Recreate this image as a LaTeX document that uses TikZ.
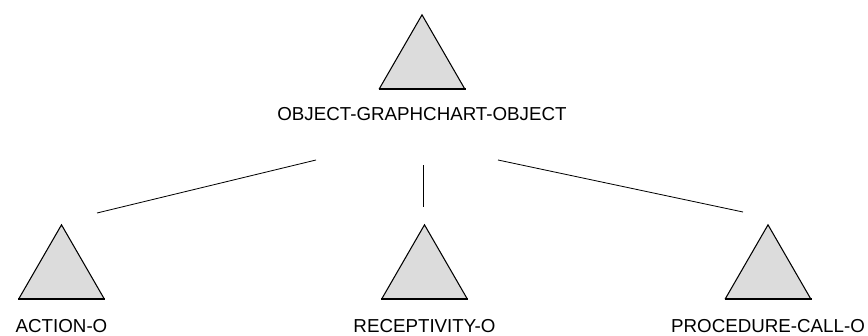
\documentclass[tikz,border=0pt]{standalone}
\usepackage{fontspec}
\setmainfont{Liberation Sans}
\usepackage{tikz}
\usetikzlibrary{positioning,shapes.geometric}
\definecolor{trifill}{HTML}{DCDCDC}
\tikzset{
  classtri/.style={regular polygon, regular polygon sides=3, draw=black, fill=trifill,
                   line width=0.9pt, minimum size=2.95cm, inner sep=0pt},
  classname/.style={inner sep=0pt, font=\fontsize{16}{18}\selectfont},
  link/.style={line width=0.7pt, draw=black},
}
\newcommand{\thickbase}[1]{\draw[line width=1.8pt] (#1.corner 2) -- (#1.corner 3);}

\begin{document}
\begin{tikzpicture}[x=0.03cm, y=-0.03cm]
  \useasboundingbox (0,0) rectangle (868,336);
  % root class
  \node[classtri] (root) at (422,64) {};
  \thickbase{root}
  \node[classname, below=0.55cm of root.south] (rootname) {OBJECT-GRAPHCHART-OBJECT};
  % subclasses
  \node[classtri] (action) at (61.5,274) {};
  \node[classtri] (recept) at (424.5,274) {};
  \node[classtri] (proc) at (768,274) {};
  \thickbase{action}
  \thickbase{recept}
  \thickbase{proc}
  \node[classname, below=0.6cm of action.south] (actionname) {ACTION-O};
  \node[classname, below=0.6cm of recept.south] (receptname) {RECEPTIVITY-O};
  \node[classname, below=0.6cm of proc.south] (procname) {PROCEDURE-CALL-O};
  % connectors
  \coordinate (rootL) at (316,160);
  \coordinate (rootM) at (423,165);
  \coordinate (rootR) at (498,160);
  \coordinate (actionT) at (97,213);
  \coordinate (receptT) at (423,207);
  \coordinate (procT) at (743,212);
  \draw[link] (rootL) -- (actionT);
  \draw[link] (rootM) -- (receptT);
  \draw[link] (rootR) -- (procT);
\end{tikzpicture}
\end{document}
